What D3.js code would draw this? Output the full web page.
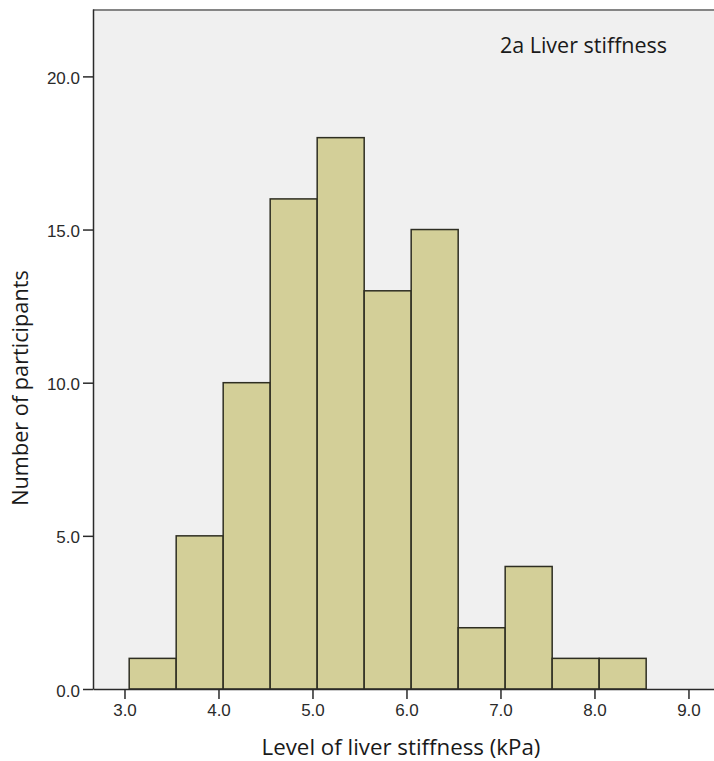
<!DOCTYPE html>
<html><head><meta charset="utf-8">
<script src="https://cdn.jsdelivr.net/npm/d3@7"></script>
<style>html,body{margin:0;padding:0;background:#fff;}svg{display:block;}</style>
</head><body>
<script>
const binStarts = [3.05, 3.55, 4.05, 4.55, 5.05, 5.55, 6.05, 6.55, 7.05, 7.55, 8.05];
const binWidth = 0.5;
const counts = [1, 5, 10, 16, 18, 13, 15, 2, 4, 1, 1];
const xTicks = [3.0, 4.0, 5.0, 6.0, 7.0, 8.0, 9.0];
const yTicks = [0.0, 5.0, 10.0, 15.0, 20.0];
const title = "2a Liver stiffness";
const xTitle = "Level of liver stiffness (kPa)";
const yTitle = "Number of participants";

const W = 714, H = 761;
const m = {left: 93, top: 9, right: -10, bottom: 72};
const svg = d3.select("body").append("svg").attr("width", W).attr("height", H);
const x = d3.scaleLinear().domain([2.665, 9.378]).range([m.left, W - m.right]);
const y = d3.scaleLinear().domain([0, 22.2]).range([H - m.bottom, m.top]);

svg.append("rect").attr("x", m.left).attr("y", m.top)
  .attr("width", W - m.right - m.left).attr("height", H - m.bottom - m.top)
  .attr("fill", "#f0f0f0");
svg.append("line").attr("x1", m.left).attr("x2", W).attr("y1", m.top + 1).attr("y2", m.top + 1)
  .attr("stroke", "#858585").attr("stroke-width", 2);

svg.selectAll("rect.bar").data(counts).join("rect").attr("class", "bar")
  .attr("x", (d, i) => x(binStarts[i]))
  .attr("width", (d, i) => x(binStarts[i] + binWidth) - x(binStarts[i]))
  .attr("y", d => y(d))
  .attr("height", d => y(0) - y(d))
  .attr("fill", "#d3cf98").attr("stroke", "#2e2e22").attr("stroke-width", 1.5);

const fmt = d3.format(".1f");
const xAxis = svg.append("g").attr("transform", `translate(0,${y(0)})`)
  .call(d3.axisBottom(x).tickValues(xTicks).tickFormat(fmt).tickSize(10).tickSizeOuter(0).tickPadding(5));
const yAxis = svg.append("g").attr("transform", `translate(${m.left},0)`)
  .call(d3.axisLeft(y).tickValues(yTicks).tickFormat(fmt).tickSize(10).tickSizeOuter(0).tickPadding(3));
[xAxis, yAxis].forEach(g => {
  g.select(".domain").attr("stroke", "#2a2a2a").attr("stroke-width", 1.5);
  g.selectAll(".tick line").attr("stroke", "#2a2a2a").attr("stroke-width", 1.5);
  g.selectAll(".tick text").attr("fill", "#2a2a2a")
    .style("font-family", "'Liberation Sans', Arial, sans-serif").style("font-size", "17px");
});
yAxis.selectAll(".tick text").attr("dy", "0.42em");

svg.append("text").attr("x", 583.5).attr("y", 53).attr("text-anchor", "middle")
  .style("font-family", "'Open Sans', sans-serif").style("font-size", "21.5px").attr("fill", "#1a1a1a")
  .text(title);
svg.append("text").attr("x", 401).attr("y", 755).attr("text-anchor", "middle")
  .style("font-family", "'Open Sans', sans-serif").style("font-size", "22.3px").attr("fill", "#1a1a1a")
  .text(xTitle);
svg.append("text").attr("transform", "translate(28,388) rotate(-90)").attr("text-anchor", "middle")
  .style("font-family", "'Open Sans', sans-serif").style("font-size", "21.7px").attr("fill", "#1a1a1a")
  .text(yTitle);
</script>
</body></html>
